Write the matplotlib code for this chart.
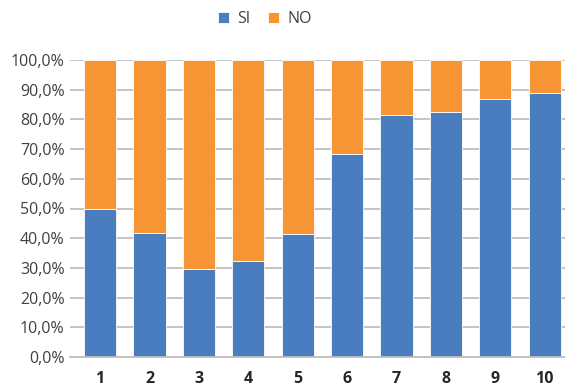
import matplotlib
matplotlib.use("Agg")
import matplotlib.pyplot as plt
from matplotlib.ticker import FuncFormatter

categories = ["1", "2", "3", "4", "5", "6", "7", "8", "9", "10"]
si = [50.0, 41.6, 29.6, 32.4, 41.3, 68.5, 81.5, 82.6, 87.0, 89.0]
no = [100 - v for v in si]

plt.rcParams["font.family"] = ["Open Sans", "DejaVu Sans"]

fig = plt.figure(figsize=(5.65, 3.89), dpi=100)
ax = fig.add_axes([70 / 565, 1 - 357 / 389, 1 - 70 / 565, (357 - 60) / 389])

x = list(range(1, len(categories) + 1))
blue = "#4A7DBF"
orange = "#F79535"
ax.bar(x, si, width=0.65, color=blue, edgecolor="white", linewidth=0.6, label="SI", zorder=3)
ax.bar(x, no, width=0.65, bottom=si, color=orange, edgecolor="white", linewidth=0.6, label="NO", zorder=3)

ax.set_ylim(0, 100)
ax.set_xlim(0.39, 10.41)
ax.set_yticks(range(0, 101, 10))
ax.yaxis.set_major_formatter(FuncFormatter(lambda v, _: f"{v:.1f}%".replace(".", ",")))
ax.set_xticks(x)
ax.set_xticklabels(categories, fontweight="bold", fontsize=11.5, color="#262626")
ax.tick_params(axis="y", labelsize=11.5, labelcolor="#404040", length=0, pad=4)
ax.tick_params(axis="x", length=0, pad=10)

ax.grid(axis="y", color="#BFBFBF", linewidth=1.3, zorder=0)
for side in ["top", "right", "left"]:
    ax.spines[side].set_visible(False)
ax.spines["bottom"].set_color("#BFBFBF")
ax.spines["bottom"].set_linewidth(1.3)
ax.spines["bottom"].set_zorder(4)

fig.legend(loc="upper center", bbox_to_anchor=(0.469, 1.008), ncol=2, frameon=False,
           fontsize=11.5, handlelength=0.7, handleheight=0.7, columnspacing=1.1,
           handletextpad=0.5, labelcolor="#404040")

fig.savefig("out.png", dpi=100)
